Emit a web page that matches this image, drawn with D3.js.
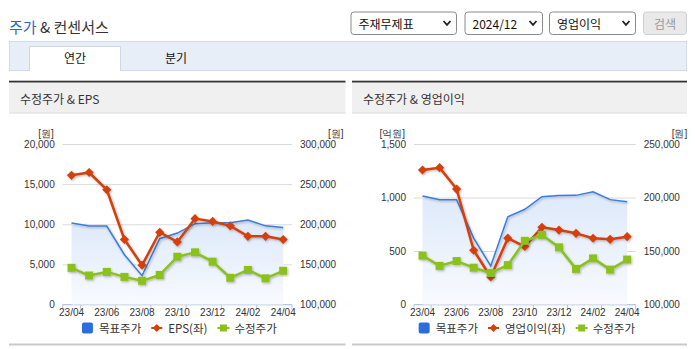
<!DOCTYPE html>
<html><head><meta charset="utf-8">
<script src="https://cdn.jsdelivr.net/npm/d3@7"></script>
<style>
html,body{margin:0;padding:0;background:#fff;}
svg{display:block;font-family:"Noto Sans CJK KR","Noto Sans",sans-serif;}
</style></head><body>
<svg id="c" width="695" height="349"></svg>
<script>
// ---------------- data ----------------
const categories = ["23/04","23/05","23/06","23/07","23/08","23/09","23/10","23/11","23/12","24/01","24/02","24/03","24/04"];
const tickLabels = ["23/04","23/06","23/08","23/10","23/12","24/02","24/04"];
const targetPrice = [201500,197800,197800,162000,136000,182000,189000,200700,201800,202000,205300,198000,196000];
const adjPrice    = [145700,136100,140600,134400,129500,136800,159500,165000,153400,133300,143100,132600,142000];
const eps         = [16100,16450,14300,8100,4900,9000,7800,10700,10350,9800,8500,8500,8100];
const opProfit    = [1257,1279,1079,507,257,620,542,722,696,665,619,609,634];
const epsTicks    = [0,5000,10000,15000,20000];
const opTicks     = [0,500,1000,1500];
const priceTicksA = [100000,150000,200000,250000,300000];
const priceTicksB = [100000,150000,200000,250000];
const selectLabels = ["주재무제표","2024/12","영업이익"];
const tabLabels = ["연간","분기"];

const C = {blue:"#3b7ddd", blueSq:"#2a6ddb", red:"#d4400e", green:"#8bc11c", txt:"#333"};
const svg = d3.select("#c");
const defs = svg.append("defs");
const f = defs.append("filter").attr("id","sh").attr("x","-10%").attr("y","-10%").attr("width","130%").attr("height","130%");
f.append("feDropShadow").attr("dx",1).attr("dy",1.2).attr("stdDeviation",1).attr("flood-color","#000").attr("flood-opacity",0.28);
const gr = defs.append("linearGradient").attr("id","ag").attr("x1",0).attr("y1",0).attr("x2",0).attr("y2",1);
gr.append("stop").attr("offset","0%").attr("stop-color","#dde9fa");
gr.append("stop").attr("offset","100%").attr("stop-color","#f8fafe");

// ---------------- header ----------------
const t = svg.append("text").attr("x",9).attr("y",26).attr("dominant-baseline","central").attr("font-size",15);
t.append("tspan").attr("fill","#2f64c9").text("주가");
t.append("tspan").attr("fill","#333").text(" & 컨센서스");

const selBoxes = [[350.5,457],[464.5,543],[549,636]];
selBoxes.forEach(([a,b],i)=>{
  const g = svg.append("g");
  g.append("rect").attr("x",a+0.5).attr("y",12).attr("width",b-a-1).attr("height",22.5).attr("rx",3)
    .attr("fill","#fff").attr("stroke","#8a8a8a");
  g.append("text").attr("x",a+8).attr("y",23.3).attr("dominant-baseline","central").attr("font-size",12).attr("fill","#111").text(selectLabels[i]);
  const cx=b-10, cy=23;
  g.append("path").attr("d",`M${cx-3.5},${cy-2} L${cx},${cy+1.8} L${cx+3.5},${cy-2}`).attr("fill","none").attr("stroke","#222").attr("stroke-width",1.8);
});
svg.append("rect").attr("x",643.5).attr("y",12).attr("width",43).attr("height",22.5).attr("rx",3).attr("fill","#e9e9e9").attr("stroke","#cfcfcf");
svg.append("text").attr("x",665).attr("y",23.3).attr("text-anchor","middle").attr("dominant-baseline","central").attr("font-size",12).attr("fill","#9a9a9a").text("검색");

// tabs
svg.append("rect").attr("x",9.5).attr("y",41.5).attr("width",677).attr("height",29).attr("fill","#e8eef8").attr("stroke","#d3dae6");
svg.append("path").attr("d","M29.5,71 V46.5 H120.5 V71").attr("fill","#fff").attr("stroke","#cfd6e2");
svg.append("rect").attr("x",30).attr("y",47).attr("width",90).attr("height",24).attr("fill","#fff");
svg.append("text").attr("x",75).attr("y",57).attr("text-anchor","middle").attr("dominant-baseline","central").attr("font-size",12).attr("fill","#111").text(tabLabels[0]);
svg.append("text").attr("x",176).attr("y",57).attr("text-anchor","middle").attr("dominant-baseline","central").attr("font-size",12).attr("fill","#111").text(tabLabels[1]);

// ---------------- panels ----------------
function panel(x0,x1,title){
  svg.append("rect").attr("x",x0).attr("y",80.7).attr("width",x1-x0).attr("height",2).attr("fill","#333");
  svg.append("rect").attr("x",x0).attr("y",82.7).attr("width",x1-x0).attr("height",30.3).attr("fill","#f0f0f0");
  svg.append("rect").attr("x",x0).attr("y",112.5).attr("width",x1-x0).attr("height",1).attr("fill","#dcdcdc");
  svg.append("rect").attr("x",x0).attr("y",343.5).attr("width",x1-x0).attr("height",2).attr("fill","#cacaca");
  svg.append("text").attr("x",x0+11).attr("y",98.5).attr("dominant-baseline","central").attr("font-size",12).attr("fill","#333").text(title);
}
panel(9,345.5,"수정주가 & EPS");
panel(352,687,"수정주가 & 영업이익");

// ---------------- charts ----------------
const yB = 304.5, yT = 144;
const numFont = '"Liberation Sans Narrow","Liberation Sans",sans-serif';
function chart(o){
  const g = svg.append("g");
  const x = d3.scaleBand().domain(categories).range([o.x0,o.x1]).padding(0);
  const cx = d => x(d)+x.bandwidth()/2;
  const yL = d3.scaleLinear().domain(o.lDom).range([yB,yT]);
  const yR = d3.scaleLinear().domain(o.rDom).range([yB,yT]);

  // grid
  g.append("g").attr("transform",`translate(${o.x0},0)`)
    .call(d3.axisRight(yL).tickValues(o.lTicks).tickSize(o.x1-o.x0).tickFormat(""))
    .call(s=>{s.select(".domain").remove(); s.selectAll("line").attr("stroke","#dadada");});
  // left labels
  g.append("g").attr("transform",`translate(${o.x0-8},0)`)
    .call(d3.axisLeft(yL).tickValues(o.lTicks).tickSize(0).tickPadding(0).tickFormat(d3.format(",")))
    .call(s=>{s.select(".domain").remove(); s.selectAll("text").attr("fill","#333").attr("font-size",10).attr("font-family",numFont);});
  // right labels
  g.append("g").attr("transform",`translate(${o.x1+8},0)`)
    .call(d3.axisRight(yR).tickValues(o.rTicks).tickSize(0).tickPadding(0).tickFormat(d3.format(",")))
    .call(s=>{s.select(".domain").remove(); s.selectAll("text").attr("fill","#333").attr("font-size",10).attr("font-family",numFont);});
  // units
  g.append("text").attr("x",o.x0-9).attr("y",133.5).attr("text-anchor","end").attr("dominant-baseline","central")
    .attr("font-size",10).attr("font-family",numFont).attr("fill","#333").text(o.lUnit);
  g.append("text").attr("x",o.x1+36).attr("y",133.5).attr("dominant-baseline","central")
    .attr("font-size",10).attr("font-family",numFont).attr("fill","#333").text("[원]");

  // bottom axis
  g.append("line").attr("x1",o.x0).attr("x2",o.x1).attr("y1",yB).attr("y2",yB).attr("stroke","#b7c7de");
  const ks = [0]; for(let k=1;k<=categories.length;k+=2) ks.push(k);
  g.selectAll(".tk").data(ks).join("line").attr("x1",k=>o.x0+k*x.step()).attr("x2",k=>o.x0+k*x.step())
    .attr("y1",yB).attr("y2",yB+5).attr("stroke","#b7c7de");
  g.append("g").attr("transform",`translate(0,${yB})`)
    .call(d3.axisBottom(x).tickValues(tickLabels).tickSize(0).tickPadding(4))
    .call(s=>{s.select(".domain").remove(); s.selectAll("text").attr("fill","#333").attr("font-size",10).attr("font-family",numFont);});

  const idx = d3.range(categories.length);
  // area + target line
  g.append("path").datum(idx).attr("fill","url(#ag)")
    .attr("d",d3.area().x(i=>cx(categories[i])).y0(yB).y1(i=>yR(targetPrice[i])));
  g.append("path").datum(idx).attr("fill","none").attr("stroke",C.blue).attr("stroke-width",1.5).attr("filter","url(#sh)")
    .attr("d",d3.line().x(i=>cx(categories[i])).y(i=>yR(targetPrice[i])));
  // red series
  const rg = g.append("g").attr("filter","url(#sh)");
  rg.append("path").datum(idx).attr("fill","none").attr("stroke",C.red).attr("stroke-width",2.5).attr("stroke-linejoin","round")
    .attr("d",d3.line().x(i=>cx(categories[i])).y(i=>yL(o.lData[i])));
  rg.selectAll("path.m").data(idx).join("path").attr("class","m").attr("fill",C.red)
    .attr("d",i=>{const X=cx(categories[i]),Y=yL(o.lData[i]),r=4.6;return `M${X},${Y-r}L${X+r},${Y}L${X},${Y+r}L${X-r},${Y}Z`;});
  // green series
  const gg = g.append("g").attr("filter","url(#sh)");
  gg.append("path").datum(idx).attr("fill","none").attr("stroke",C.green).attr("stroke-width",2.5).attr("stroke-linejoin","round")
    .attr("d",d3.line().x(i=>cx(categories[i])).y(i=>yR(adjPrice[i])));
  gg.selectAll("rect").data(idx).join("rect").attr("fill",C.green)
    .attr("x",i=>cx(categories[i])-4).attr("y",i=>yR(adjPrice[i])-4).attr("width",8).attr("height",8);

  // legend
  const lg = g.append("g");
  const items = [{t:"목표주가",k:"sq"},{t:o.lName,k:"dia"},{t:"수정주가",k:"gsq"}];
  let cur = 0; const ly = 328;
  items.forEach(it=>{
    const ig = lg.append("g").attr("transform",`translate(${cur},0)`);
    if(it.k==="sq") ig.append("rect").attr("x",0).attr("y",ly-5.5).attr("width",11).attr("height",11).attr("rx",2).attr("fill",C.blueSq);
    if(it.k==="dia"){
      ig.append("line").attr("x1",0).attr("x2",11).attr("y1",ly).attr("y2",ly).attr("stroke",C.red).attr("stroke-width",2);
      ig.append("path").attr("d",`M5.5,${ly-4}L9.5,${ly}L5.5,${ly+4}L1.5,${ly}Z`).attr("fill",C.red);
    }
    if(it.k==="gsq"){
      ig.append("line").attr("x1",0).attr("x2",12).attr("y1",ly).attr("y2",ly).attr("stroke",C.green).attr("stroke-width",2);
      ig.append("rect").attr("x",2.5).attr("y",ly-3.5).attr("width",7).attr("height",7).attr("fill",C.green);
    }
    const tx = ig.append("text").attr("x",17).attr("y",ly).attr("dominant-baseline","central").attr("font-size",11.5).attr("fill","#333").text(it.t);
    cur += 17 + tx.node().getComputedTextLength() + 10;
  });
  const w = cur - 10;
  lg.attr("transform",`translate(${(o.x0+o.x1)/2 + 2 - w/2},0)`);
}

chart({x0:62.7,x1:292,lDom:[0,20000],rDom:[100000,300000],lTicks:epsTicks,rTicks:priceTicksA,lUnit:"[원]",lData:eps,lName:"EPS(좌)"});
chart({x0:414,x1:635.7,lDom:[0,1500],rDom:[100000,250000],lTicks:opTicks,rTicks:priceTicksB,lUnit:"[억원]",lData:opProfit,lName:"영업이익(좌)"});
</script>
</body></html>
